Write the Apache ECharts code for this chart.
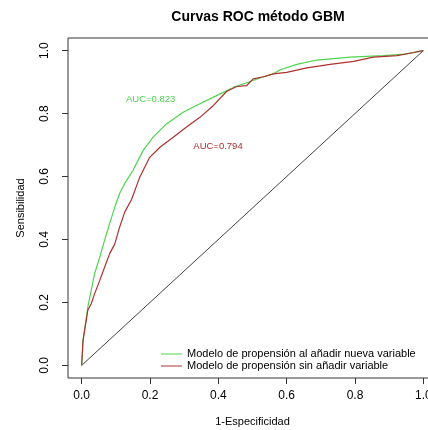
<!DOCTYPE html>
<html>
<head>
<meta charset="utf-8">
<script src="https://cdn.jsdelivr.net/npm/echarts@6/dist/echarts.min.js"></script>
<style>html,body{margin:0;padding:0;background:#fff}#c{width:428px;height:430px}</style>
</head>
<body>
<div id="c"></div>
<script>
var titleText = 'Curvas ROC método GBM';
var xName = '1-Especificidad';
var yName = 'Sensibilidad';
var tickValues = [0, 0.2, 0.4, 0.6, 0.8, 1.0];
var seriesNames = ['Modelo de propensión al añadir nueva variable', 'Modelo de propensión sin añadir variable'];
var aucLabels = ['AUC=0.823', 'AUC=0.794'];
var aucPos = [[0.202, 0.844], [0.399, 0.695]];

var fprNew = [0, 0.004, 0.018, 0.028, 0.038, 0.053, 0.067, 0.082, 0.097, 0.111, 0.126, 0.150, 0.180, 0.209, 0.248, 0.297, 0.346, 0.395, 0.444, 0.483, 0.522, 0.561, 0.581, 0.630, 0.688, 0.786, 0.883, 0.947, 1.0];
var tprNew = [0, 0.079, 0.185, 0.238, 0.292, 0.344, 0.397, 0.451, 0.503, 0.546, 0.578, 0.619, 0.683, 0.725, 0.767, 0.804, 0.831, 0.857, 0.883, 0.898, 0.913, 0.926, 0.939, 0.956, 0.970, 0.979, 0.984, 0.989, 1.0];

var fprOld = [0, 0.004, 0.018, 0.028, 0.038, 0.053, 0.067, 0.082, 0.097, 0.111, 0.126, 0.146, 0.170, 0.199, 0.229, 0.268, 0.307, 0.346, 0.385, 0.424, 0.454, 0.483, 0.502, 0.532, 0.561, 0.600, 0.659, 0.727, 0.796, 0.854, 0.923, 0.972, 1.0];
var tprOld = [0, 0.079, 0.175, 0.196, 0.228, 0.270, 0.312, 0.355, 0.386, 0.439, 0.487, 0.527, 0.598, 0.661, 0.693, 0.725, 0.757, 0.788, 0.825, 0.870, 0.886, 0.889, 0.910, 0.917, 0.926, 0.931, 0.945, 0.956, 0.966, 0.979, 0.984, 0.994, 1.0];

var diagX = [0, 1];
var diagY = [0, 1];

function pairs(xs, ys) { return xs.map(function (x, i) { return [x, ys[i]]; }); }

var green = '#4fd34f';
var red = '#b0302e';
var font = 'Liberation Sans, Arial, sans-serif';

var chart = echarts.init(document.getElementById('c'), null, { renderer: 'canvas' });
chart.setOption({
  animation: false,
  backgroundColor: '#fff',
  title: {
    text: titleText, left: 253, top: 5, textAlign: 'center',
    textStyle: { fontFamily: font, fontSize: 14, fontWeight: 'bold', color: '#000' }
  },
  grid: { left: 68, top: 38, width: 369, height: 340, outerBoundsMode: 'none', containLabel: false,
    show: true, borderColor: '#333', borderWidth: 1 },
  xAxis: {
    type: 'value', min: -0.04, max: 1.04,
    name: xName, nameLocation: 'middle', nameGap: 38,
    nameTextStyle: { fontFamily: font, fontSize: 11, color: '#000' },
    axisLine: { show: false, onZero: false },
    splitLine: { show: false },
    axisTick: { show: true, inside: false, customValues: tickValues, length: 6, lineStyle: { color: '#333' } },
    axisLabel: { customValues: tickValues, margin: 12, fontFamily: font, fontSize: 12, color: '#000', hideOverlap: false,
      formatter: function (v) { return v.toFixed(1); } }
  },
  yAxis: {
    type: 'value', min: -0.04, max: 1.04,
    name: yName, nameLocation: 'middle', nameGap: 42,
    nameTextStyle: { fontFamily: font, fontSize: 11, color: '#000' },
    axisLine: { show: false, onZero: false },
    splitLine: { show: false },
    axisTick: { show: true, inside: false, customValues: tickValues, length: 6, lineStyle: { color: '#333' } },
    axisLabel: { customValues: tickValues, rotate: 90, margin: 17, fontFamily: font, fontSize: 12, color: '#000',
      formatter: function (v) { return v.toFixed(1); } }
  },
  legend: {
    orient: 'vertical', left: 156, top: 343.5, itemGap: 1, itemWidth: 21, itemHeight: 1, icon: 'rect',
    data: seriesNames,
    textStyle: { fontFamily: font, fontSize: 11, color: '#000', padding: [0, 0, 0, 0] }
  },
  series: [
    {
      name: seriesNames[0], type: 'line', symbol: 'none', data: pairs(fprNew, tprNew),
      lineStyle: { color: green, width: 1.2 }, itemStyle: { color: green },
      markPoint: {
        symbol: 'circle', symbolSize: 0,
        label: { show: true, position: 'inside', formatter: aucLabels[0], color: green, fontFamily: font, fontSize: 9.5 },
        data: [{ coord: aucPos[0] }]
      }
    },
    {
      name: seriesNames[1], type: 'line', symbol: 'none', data: pairs(fprOld, tprOld),
      lineStyle: { color: red, width: 1.2 }, itemStyle: { color: red },
      markPoint: {
        symbol: 'circle', symbolSize: 0,
        label: { show: true, position: 'inside', formatter: aucLabels[1], color: red, fontFamily: font, fontSize: 9.5 },
        data: [{ coord: aucPos[1] }]
      }
    },
    {
      name: 'diag', type: 'line', symbol: 'none', data: pairs(diagX, diagY),
      lineStyle: { color: '#444', width: 1 }, itemStyle: { color: '#444' }, silent: true, z: 1
    }
  ]
});
</script>
</body>
</html>
